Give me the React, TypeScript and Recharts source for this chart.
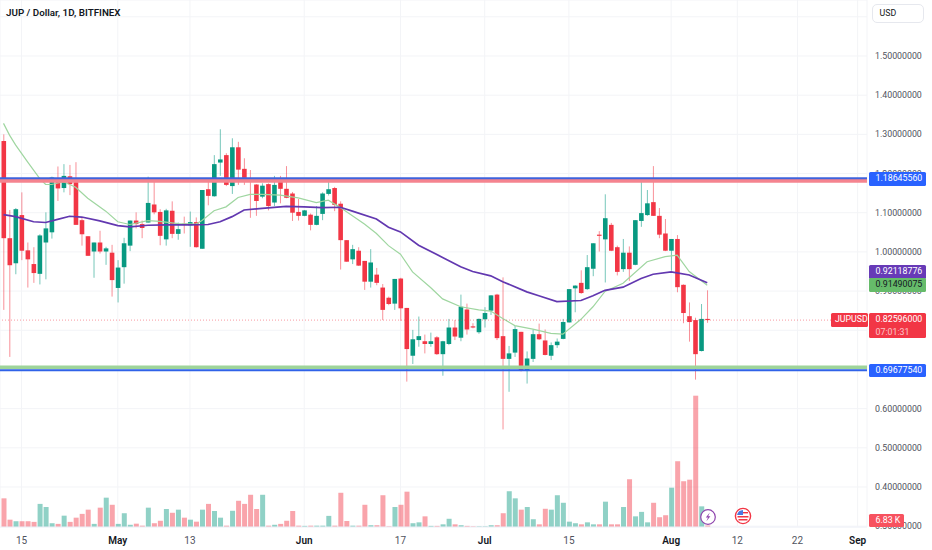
import React from "react";
import {
  Bar,
  CartesianGrid,
  ComposedChart,
  Line,
  ReferenceLine,
  XAxis,
  YAxis,
} from "recharts";

const UP = "#089981";
const DOWN = "#f23645";
const FONT = "Roboto, sans-serif";
const PRICE_TOP = 1.6429;
const PRICE_BOTTOM = 0.2979;
const PLOT_HEIGHT = 527;

const opens = [1.283,1.035,.971,1.094,1.004,.969,.944,1.024,1.05,1.178,1.163,1.193,1.178,1.081,1.04,1.001,1.024,1.001,.998,.908,.961,1.016,1.08,1.071,1.075,1.121,1.102,1.032,1.105,1.046,1.072,1.068,1.076,1.008,1.16,1.142,1.228,1.247,1.168,1.267,1.212,1.187,1.172,1.141,1.173,1.126,1.182,1.161,1.149,1.102,1.092,1.095,1.069,1.097,1.148,1.163,1.123,1.03,.981,1.003,.977,.924,.942,.909,.883,.868,.932,.857,.735,.775,.772,.765,.782,.739,.765,.807,.781,.853,.81,.795,.828,.85,.891,.785,.727,.743,.796,.696,.727,.79,.774,.735,.762,.778,.82,.907,.921,.905,.957,1.044,1.032,1.069,1.012,.956,.998,.967,1.079,1.094,1.127,1.092,1.047,1.003,1.033,.916,.836,.826,.747,.829];
const closes = [1.035,.966,1.109,1.003,.981,.946,1.042,1.06,1.19,1.162,1.194,1.173,1.069,1.045,.99,1.024,1.001,1.009,.928,.96,1.022,1.08,1.071,1.061,1.125,1.101,1.041,1.106,1.046,1.058,1.069,1.076,1.012,1.158,1.143,1.224,1.236,1.171,1.267,1.21,1.189,1.183,1.13,1.169,1.117,1.171,1.161,1.138,1.1,1.092,1.106,1.069,1.092,1.149,1.16,1.12,1.03,.975,1.007,.965,.924,.973,.921,.852,.867,.931,.856,.752,.777,.785,.765,.772,.739,.772,.807,.784,.86,.802,.807,.829,.844,.889,.78,.727,.741,.803,.696,.728,.79,.777,.737,.762,.771,.821,.905,.914,.895,.961,1.022,1.041,1.086,1.003,.949,.998,.956,1.081,1.099,1.124,1.092,1.044,1.003,1.033,.91,.844,.821,.739,.829,.82596];
const highs = [1.3,1.107,1.112,1.152,1.024,1.012,1.045,1.101,1.192,1.218,1.224,1.222,1.229,1.088,1.04,1.024,1.054,1.013,1.018,.979,1.036,1.08,1.101,1.08,1.192,1.181,1.109,1.11,1.129,1.075,1.09,1.103,1.088,1.158,1.185,1.247,1.313,1.252,1.29,1.281,1.239,1.209,1.173,1.175,1.175,1.194,1.194,1.219,1.153,1.135,1.107,1.098,1.117,1.152,1.183,1.166,1.129,1.03,1.018,1.012,.977,1.007,.959,.918,.886,.931,.934,.857,.801,.835,.789,.794,.785,.773,.829,.826,.891,.868,.818,.83,.859,.89,.893,.935,.76,.811,.796,.746,.802,.817,.802,.769,.779,.829,.905,.915,.953,.992,1.022,1.053,1.147,1.074,1.016,1.033,1.014,1.081,1.181,1.158,1.219,1.112,1.084,1.033,1.043,.917,.871,.832,.867,.902];
const lows = [.852,.732,.943,.979,.909,.921,.917,.93,1.034,1.13,1.152,1.145,1.069,1.016,.99,.934,.996,.967,.886,.871,.919,1.002,1.06,1.035,1.075,1.096,1.017,1.016,1.035,1.031,1.047,1.013,1.011,1.008,1.119,1.141,1.194,1.168,1.148,1.171,1.171,1.087,1.092,1.137,1.106,1.117,1.124,1.137,1.079,1.08,1.091,1.055,1.068,1.081,1.144,1.104,.955,.975,.969,.964,.903,.909,.915,.826,.864,.852,.824,.669,.714,.758,.741,.758,.737,.684,.762,.775,.772,.789,.805,.791,.807,.839,.775,.547,.643,.732,.695,.664,.719,.775,.736,.724,.755,.777,.82,.846,.893,.903,.938,1.001,.922,1.002,.94,.949,.926,.966,1.064,1.092,1.092,1.035,1.002,.952,.897,.818,.771,.674,.746,.819];
const volumes = [129,33,26,26,26,23,104,90,17,14,51,23,42,59,78,14,87,132,100,14,62,10,15,6,87,17,28,81,64,78,42,33,24,78,104,72,42,6,73,118,104,145,81,145,6,10,14,28,72,6,5,6,6,6,50,6,154,27,6,6,100,8,8,143,3,90,100,159,17,21,48,5,5,12,37,12,8,5,3,3,3,8,8,62,161,129,78,90,35,12,82,78,143,109,24,17,12,21,12,12,114,12,12,90,215,48,68,21,109,44,53,177,296,206,213,591,93,6.83];

const slowDays = [0,2,5,7,9,11,13,16,19,21,24,27,31,34,36,38,40,43,47,50,53,56,58,62,64,66,69,73,76,78,81,83,87,89,92,96,98,100,103,106,108,111,114,117];
const slowValues = [1.095,1.09,1.077,1.075,1.083,1.091,1.089,1.079,1.067,1.064,1.068,1.069,1.069,1.07,1.077,1.09,1.107,1.111,1.116,1.115,1.113,1.114,1.104,1.084,1.063,1.051,1.017,.986,.962,.95,.939,.924,.898,.888,.873,.876,.888,.902,.91,.932,.943,.949,.941,.92119];
const fastDays = [0,1,2,4,6,7,8,10,12,14,17,19,21,24,26,29,32,33,35,37,39,41,43,46,49,52,54,56,60,62,64,66,68,71,73,76,79,81,83,85,88,91,93,96,98,100,103,107,110,112,114,117];
const fastValues = [1.328,1.298,1.273,1.23,1.188,1.172,1.172,1.179,1.165,1.137,1.104,1.077,1.07,1.08,1.078,1.072,1.071,1.08,1.105,1.115,1.139,1.147,1.147,1.145,1.138,1.126,1.132,1.113,1.071,1.047,1.016,.994,.949,.909,.88,.86,.852,.849,.83,.812,.803,.792,.79,.828,.86,.899,.92,.975,.988,.992,.95,.9149];

const dateTicks = [3,19,31,50,66,80,94,111,122,132,142];
const dateLabels = ["15","May","13","Jun","17","Jul","15","Aug","12","22","Sep"];
const monthLabels = ["May","Jun","Jul","Aug","Sep"];
const priceTicks = [.3,.4,.5,.6,.7,.8,.9,1,1.1,1.2,1.3,1.4,1.5,1.6];
const coveredTicks = [.7,.8,1.6];

const table = opens.map((open, i) => {
  const slowAt = slowDays.indexOf(i);
  const fastAt = fastDays.indexOf(i);
  return {
    day: i,
    open,
    close: closes[i],
    high: highs[i],
    low: lows[i],
    range: [lows[i], highs[i]],
    volume: volumes[i],
    slow: slowAt >= 0 ? slowValues[slowAt] : null,
    fast: fastAt >= 0 ? fastValues[fastAt] : null,
  };
});

const priceY = (p: number) => ((PRICE_TOP - p) / (PRICE_TOP - PRICE_BOTTOM)) * PLOT_HEIGHT;

function Candle(props: any) {
  const { x, y, width, height, payload } = props;
  const { open, close, high, low } = payload;
  const up = close >= open;
  const color = up ? UP : DOWN;
  const perUnit = height / (high - low);
  const top = y + (high - Math.max(open, close)) * perUnit;
  const bottom = y + (high - Math.min(open, close)) * perUnit;
  const mid = x + width / 2;
  return (
    <g>
      <rect x={mid - 0.5} y={y} width={1} height={height} fill={color} fillOpacity={0.55} />
      <rect x={x} y={top} width={width} height={Math.max(bottom - top, 1)} fill={color} />
    </g>
  );
}

function VolumeBar(props: any) {
  const { x, y, width, height, payload } = props;
  const color = payload.close >= payload.open ? UP : DOWN;
  return <rect x={x} y={y} width={width} height={height} fill={color} fillOpacity={0.45} />;
}

function DateTick(props: any) {
  const { x, y, payload } = props;
  const label = dateLabels[dateTicks.indexOf(payload.value)];
  const month = monthLabels.includes(label);
  return (
    <text
      x={x}
      y={y}
      dy={9}
      textAnchor="middle"
      fontFamily={FONT}
      fontSize={10}
      fontWeight={month ? 600 : 400}
      fill={month ? "#131722" : "#50535e"}
    >
      {label}
    </text>
  );
}

function PriceTag(props: any) {
  const { y, text, sub, bg, color = "#fff", left = 868.5, width = 57.5, pad = 7 } = props;
  const height = sub ? 25 : 13.5;
  return (
    <div
      style={{
        position: "absolute",
        left,
        top: y - 6.75,
        width,
        height,
        boxSizing: "border-box",
        paddingLeft: pad,
        background: bg,
        color,
        borderRadius: 1.5,
        fontFamily: FONT,
        fontSize: 8.8,
        lineHeight: "13.5px",
      }}
    >
      {text}
      {sub && <div style={{ opacity: 0.7, lineHeight: "10px" }}>{sub}</div>}
    </div>
  );
}

export default function App() {
  return (
    <div style={{ position: "absolute", left: 0, top: 0, width: 932, height: 550, background: "#fff", overflow: "hidden" }}>
      <ComposedChart
        width={932}
        height={550}
        data={table}
        margin={{ top: 0, right: 0, bottom: 0, left: 0 }}
      >
        <CartesianGrid stroke="#f3f4f7" strokeWidth={1} />
        <XAxis
          dataKey="day"
          type="number"
          domain={[-0.582, 143.56]}
          allowDataOverflow
          ticks={dateTicks}
          interval={0}
          tick={<DateTick />}
          tickLine={false}
          axisLine={{ stroke: "#f0f3fa" }}
          height={23}
        />
        <XAxis xAxisId="vol" dataKey="day" type="number" domain={[-0.582, 143.56]} allowDataOverflow hide />
        <YAxis
          orientation="right"
          width={65}
          domain={[PRICE_BOTTOM, PRICE_TOP]}
          allowDataOverflow
          ticks={priceTicks}
          interval={0}
          tickFormatter={(v: number) => (coveredTicks.includes(v) ? "" : v.toFixed(8))}
          tick={{ fontSize: 8.8, fill: "#50535e", fontFamily: FONT, textAnchor: "start" }}
          tickLine={false}
          axisLine={false}
          tickMargin={2}
        />
        <YAxis yAxisId="vol" orientation="right" domain={[0, 2372]} hide />

        <Bar
          xAxisId="vol"
          yAxisId="vol"
          dataKey="volume"
          barSize={5}
          shape={<VolumeBar />}
          isAnimationActive={false}
        />
        <Bar dataKey="range" barSize={4.6} shape={<Candle />} isAnimationActive={false} />

        <Line dataKey="fast" stroke="#9fd6a0" strokeWidth={1.2} dot={false} activeDot={false} connectNulls isAnimationActive={false} />
        <Line dataKey="slow" stroke="#6238b0" strokeWidth={1.7} dot={false} activeDot={false} connectNulls isAnimationActive={false} />

        <ReferenceLine y={0.82596} stroke="#f23645" strokeOpacity={0.5} strokeDasharray="1 2" strokeWidth={1} />
        <ReferenceLine y={1.1812} stroke="#f5848f" strokeWidth={3.7} />
        <ReferenceLine y={1.188} stroke="#3f63dc" strokeWidth={2} />
        <ReferenceLine y={0.7055} stroke="#9ed49a" strokeWidth={3.4} />
        <ReferenceLine y={0.698} stroke="#2f62e8" strokeWidth={1.8} />
      </ComposedChart>

      <PriceTag y={priceY(1.18645)} text="1.18645560" bg="#2962ff" />
      <PriceTag y={priceY(0.92119) - 11} text="0.92118776" bg="#673ab7" />
      <PriceTag y={priceY(0.9149)} text="0.91490075" bg="#66bb6a" color="#131722" />
      <PriceTag y={priceY(0.82596)} left={830.5} width={37.5} pad={4.5} text="JUPUSD" bg={DOWN} />
      <PriceTag y={priceY(0.82596)} text="0.82596000" sub="07:01:31" bg={DOWN} />
      <PriceTag y={priceY(0.69677)} text="0.69677540" bg="#2962ff" />
      <PriceTag y={520.5} width={35} text="6.83 K" bg="#f7525f" />

      <div style={{ position: "absolute", left: 6, top: 7, fontFamily: FONT, fontSize: 9.8, fontWeight: 600, color: "#131722", whiteSpace: "nowrap" }}>
        JUP / Dollar, 1D, BITFINEX
      </div>
      <div style={{ position: "absolute", left: 871.5, top: 3.5, width: 52, height: 19, boxSizing: "border-box", border: "1px solid #e6e8ee", borderRadius: 5, background: "#fff", fontFamily: FONT, fontSize: 8.8, color: "#131722", lineHeight: "17px", paddingLeft: 7 }}>
        USD
      </div>
      <svg style={{ position: "absolute", left: 695, top: 504 }} width={62} height={26}>
        <circle cx={13} cy={13} r={7.3} fill="#fff" stroke="#8e44ad" strokeWidth={1.2} />
        <path d="M14.8 8.6 L10.8 13.6 L13 13.6 L11.4 17.2 L15.4 12.3 L13.2 12.3 Z" fill="#8e44ad" />
        <circle cx={48} cy={12} r={7.6} fill="#fff" stroke="#f23645" strokeWidth={1.4} />
        <rect x={42.5} y={12} width={11} height={1.5} fill="#f23645" />
        <rect x={43.5} y={15} width={9} height={1.5} fill="#f23645" />
        <path d="M42 11 A6.5 6.5 0 0 1 48 6 L48 11 Z" fill="#4a78e0" />
        <rect x={48} y={8} width={5} height={1.4} fill="#f23645" />
      </svg>
    </div>
  );
}
